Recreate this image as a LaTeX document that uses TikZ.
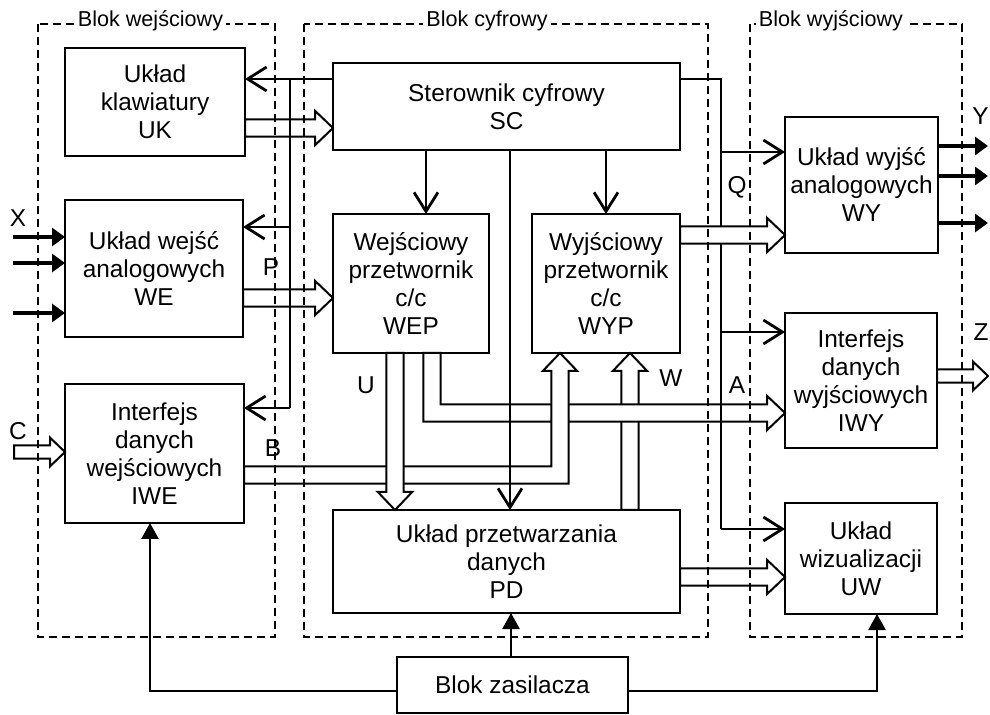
\documentclass[tikz,border=0pt]{standalone}
\usepackage{fontspec}
\setmainfont{Liberation Sans}
\usetikzlibrary{arrows.meta,calc}

% hollow bus sizes: half width, head half width, head length
\def\bw{4.3pt}\def\bh{8.6pt}\def\bl{9pt}
% horizontal bus to the right: #1 start, #2 tip
\newcommand{\szynaprawo}[2]{%
  \path[szyna] let \p1=(#1), \p2=(#2) in
    (\x1,\y2+\bw) -- (\x2-\bl,\y2+\bw) -- (\x2-\bl,\y2+\bh) -- (\x2,\y2)
    -- (\x2-\bl,\y2-\bh) -- (\x2-\bl,\y2-\bw) -- (\x1,\y2-\bw) -- cycle;}
% vertical bus: #1 start, #2 tip, #3 = 1 (up) or -1 (down)
\newcommand{\szynapion}[3]{%
  \path[szyna] let \p1=(#1), \p2=(#2) in
    (\x2-\bw,\y1) -- (\x2-\bw,\y2-#3*\bl) -- (\x2-\bh,\y2-#3*\bl) -- (\x2,\y2)
    -- (\x2+\bh,\y2-#3*\bl) -- (\x2+\bw,\y2-#3*\bl) -- (\x2+\bw,\y1) -- cycle;}

\tikzset{
  blok/.style 2 args={draw,line width=1.2pt,minimum width=#1*0.5pt,minimum height=#2*0.5pt,
    inner sep=0pt,outer sep=0pt,align=center,font=\fontsize{12.2}{14}\selectfont},
  ramka/.style={line width=0.8pt,dash pattern=on 4.2pt off 2.3pt},
  ramkatxt/.style={fill=white,inner sep=1.5pt,anchor=base,font=\fontsize{10.8}{12}\selectfont},
  lin/.style={line width=1.2pt},
  sig/.style={line width=1.4pt,-{Straight Barb[length=9.5pt,width=12pt,line width=1.4pt]}},
  zas/.style={line width=1.35pt,-{Triangle[length=8pt,width=8.5pt]}},
  wewy/.style={line width=1.6pt,-{Triangle[length=6.5pt,width=9pt]}},
  szyna/.style={draw,fill=white,line width=1pt,line join=miter},
  lit/.style={inner sep=0pt,font=\fontsize{12.2}{14}\selectfont},
}

\begin{document}
\begin{tikzpicture}[x=0.5pt,y=-0.5pt]
  \useasboundingbox (0,0) rectangle (990,715);

  % blocks
  \node[blok={180}{108}] (UK) at (155,102) {Układ\\klawiatury\\UK};
  \node[blok={178}{137}] (WE) at (154,268.5) {Układ wejść\\analogowych\\WE};
  \node[blok={179}{139}] (IWE) at (154.5,453.5) {Interfejs\\danych\\wejściowych\\IWE};
  \node[blok={347}{87}] (SC) at (506.5,106.5) {Sterownik cyfrowy\\SC};
  \node[blok={156}{139}] (WEP) at (411,283.5) {Wejściowy\\przetwornik\\c/c\\WEP};
  \node[blok={148}{139}] (WYP) at (606,283.5) {Wyjściowy\\przetwornik\\c/c\\WYP};
  \node[blok={347}{103}] (PD) at (506.5,561.5) {Układ przetwarzania\\danych\\PD};
  \node[blok={153}{136}] (WY) at (861.5,185) {Układ wyjść\\analogowych\\WY};
  \node[blok={152}{135}] (IWY) at (861,380.5) {Interfejs\\danych\\wyjściowych\\IWY};
  \node[blok={152}{111}] (UW) at (861,558.5) {Układ\\wizualizacji\\UW};
  \node[blok={231}{56}] (ZAS) at (512.5,685) {Blok zasilacza};

  % bus junctions
  \coordinate (p0) at (290,79);  \coordinate (p1) at (290,227); \coordinate (p2) at (290,408);
  \coordinate (q0) at (721,79);  \coordinate (q1) at (721,152); \coordinate (q2) at (721,332);
  \coordinate (q3) at (721,529);
  \coordinate (s1) at (426,0);
  \coordinate (kU) at (432,413); \coordinate (kB) at (560,475);
  \coordinate (kW) at (630,0);   \coordinate (kD) at (395,0);
  \coordinate (zl) at (0,691);

  % input buses and P lines
  \szynaprawo{UK.east}{SC.west |- 0,128}
  \szynaprawo{WE.east}{WEP.west |- 0,298}
  \draw[sig] (SC.west |- p0) -- (UK.east |- p0);
  \draw[lin] (p0) -- (p2);
  \draw[sig] (p1) -- (WE.east |- p1);
  \draw[sig] (p2) -- (IWE.east |- p2);

  % data buses U, W, B
  \szynapion{PD.north -| kW}{WYP.south -| kW}{1}
  \path[szyna] let \p1=(WEP.south -| kU), \p2=(kU), \p3=(IWY.west |- kU) in
    (\x1-\bw,\y1) -- (\x1-\bw,\y2-\bw) -- (\x3-\bl,\y2-\bw) -- (\x3-\bl,\y2-\bh) -- (\x3,\y2)
    -- (\x3-\bl,\y2+\bh) -- (\x3-\bl,\y2+\bw) -- (\x1+\bw,\y2+\bw) -- (\x1+\bw,\y1) -- cycle;
  \path[szyna] let \p1=(IWE.east |- kB), \p2=(kB), \p3=(WYP.south -| kB) in
    (\x1,\y2+\bw) -- (\x2-\bw,\y2+\bw) -- (\x2-\bw,\y3-\bl) -- (\x2-\bh,\y3-\bl) -- (\x2,\y3)
    -- (\x2+\bh,\y3-\bl) -- (\x2+\bw,\y3-\bl) -- (\x2+\bw,\y2-\bw) -- (\x1,\y2-\bw) -- cycle;
  \szynapion{WEP.south -| kD}{PD.north -| kD}{-1}

  % Q lines
  \draw[lin] (SC.east |- q0) -- (q0) -- (q3);
  \draw[sig] (q1) -- (WY.west |- q1);
  \draw[sig] (q2) -- (IWY.west |- q2);
  \draw[sig] (q3) -- (UW.west |- q3);
  \szynaprawo{WYP.east}{WY.west |- 0,235}
  \szynaprawo{PD.east}{UW.west |- 0,577}

  % control from SC
  \draw[sig] (SC.south -| s1) -- (WEP.north -| s1);
  \draw[sig] (SC.south -| WYP.north) -- (WYP.north);
  \draw[sig] (SC.south -| 510,0) -- (PD.north -| 510,0);

  % outer inputs and outputs
  \foreach \y [count=\i] in {237,263,313}{
    \coordinate (x\i) at (13,\y);
    \draw[wewy] (x\i) -- (WE.west |- x\i);
  }
  \foreach \y [count=\i] in {146,176,223}{
    \coordinate (y\i) at (988,\y);
    \draw[wewy] (WY.east |- y\i) -- (y\i);
  }
  \begingroup
    \def\bw{3.3pt}\def\bh{7.2pt}\def\bl{7.5pt}
    \coordinate (c0) at (14,452);
    \szynaprawo{c0}{IWE.west |- c0}
    \coordinate (z0) at (988,376);
    \szynaprawo{IWY.east |- z0}{z0}
  \endgroup

  % power supply
  \draw[zas] (ZAS.west |- zl) -| (IWE.south -| 150,0);
  \draw[zas] (ZAS.north -| 511,0) -- (PD.south -| 511,0);
  \draw[zas] (ZAS.east |- zl) -| (UW.south -| 877,0);

  % dashed frames
  \draw[ramka] (38,24) rectangle (275,637);
  \draw[ramka] (304,24) rectangle (708,637);
  \draw[ramka] (750,24) rectangle (962,637);
  \node[ramkatxt] (tWE) at (150.5,27) {Blok wejściowy};
  \node[ramkatxt] (tSC) at (487,27) {Blok cyfrowy};
  \node[ramkatxt] (tWY) at (831,27) {Blok wyjściowy};

  % signal names
  \node[lit] (lP) at (271,267) {P};
  \node[lit] (lB) at (273,448) {B};
  \node[lit] (lU) at (366,385) {U};
  \node[lit] (lW) at (671,378) {W};
  \node[lit] (lQ) at (737,187) {Q};
  \node[lit] (lA) at (737,385) {A};
  \node[lit] (lX) at (18,218) {X};
  \node[lit] (lC) at (18,431) {C};
  \node[lit,anchor=east] (lY) at (989,116) {Y};
  \node[lit,anchor=east] (lZ) at (989,332) {Z};
\end{tikzpicture}
\end{document}
